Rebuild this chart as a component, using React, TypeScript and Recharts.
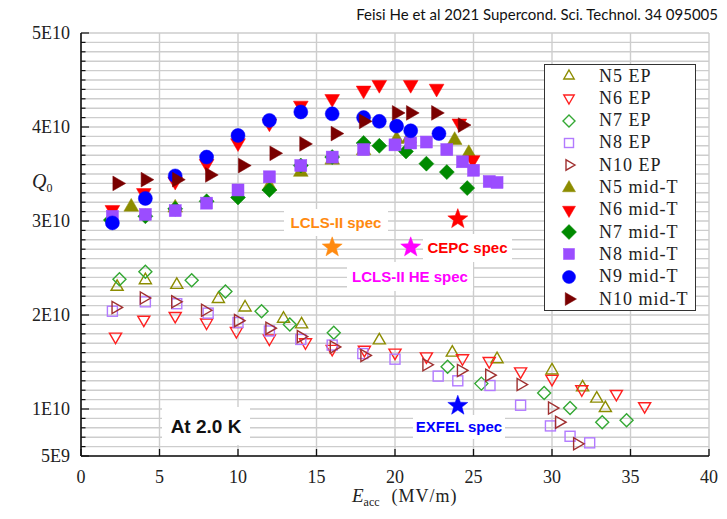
import React from 'react';
import { ScatterChart, Scatter, XAxis, YAxis, CartesianGrid, Legend } from 'recharts';

type Pt = [number, number];
type Kind = 'up' | 'down' | 'diamond' | 'square' | 'circle' | 'right' | 'star';

// E_acc (MV/m), Q0 in units of 1E9

// EP baseline cavities
const n5Ep: Pt[] = [[2.3, 23.0], [4.1, 23.7], [6.1, 23.2], [8.75, 21.7], [10.45, 20.8], [12.9, 19.6], [14.05, 19.0], [19.0, 17.3], [23.65, 16.0], [26.5, 15.3], [30.0, 14.1], [31.95, 12.3], [32.85, 11.1], [33.4, 10.1]];
const n6Ep: Pt[] = [[2.2, 17.7], [4.0, 19.5], [6.0, 19.9], [8.0, 19.2], [9.9, 18.3], [12.0, 17.5], [14.3, 17.1], [16.0, 16.4], [18.05, 16.3], [20.0, 16.0], [22.0, 15.6], [24.3, 15.4], [26.0, 15.1], [28.0, 14.0], [30.0, 13.2], [31.9, 12.1], [34.1, 11.6], [35.9, 10.3]];
const n7Ep: Pt[] = [[2.45, 23.8], [4.1, 24.6], [7.05, 23.7], [9.2, 22.5], [11.5, 20.4], [13.3, 19.0], [16.1, 18.1], [23.35, 14.5], [25.5, 12.7], [29.5, 11.7], [31.15, 10.1], [33.2, 8.6], [34.75, 8.8]];
const n8Ep: Pt[] = [[2.0, 20.4], [4.1, 21.4], [6.1, 21.2], [8.1, 20.2], [10.0, 19.2], [12.0, 18.3], [14.0, 17.4], [16.0, 16.8], [17.95, 15.9], [20.0, 15.3], [22.75, 13.5], [24.0, 13.0], [26.05, 12.5], [28.0, 10.4], [29.9, 8.2], [31.15, 7.1], [32.4, 6.4]];
const n10Ep: Pt[] = [[2.2, 20.8], [4.0, 21.8], [6.0, 21.4], [7.9, 20.5], [10.0, 19.4], [12.0, 18.6], [14.0, 17.7], [16.1, 16.6], [18.05, 15.7], [22.0, 14.7], [24.2, 14.1], [26.0, 13.6], [28.0, 12.6], [30.0, 10.1], [30.45, 8.6], [31.6, 6.3]];

// mid-T baked cavities
const n5Mid: Pt[] = [[3.2, 31.5], [6.0, 31.4], [12.0, 33.7], [14.0, 35.2], [16.0, 36.5], [18.0, 37.5], [20.1, 38.7], [20.9, 38.8], [23.8, 38.6], [24.7, 37.2]];
const n6Mid: Pt[] = [[2.0, 31.2], [4.0, 33.0], [6.0, 34.2], [8.0, 36.1], [10.0, 38.3], [12.0, 40.4], [14.0, 42.3], [16.0, 43.0], [18.0, 43.9], [19.0, 44.5], [21.0, 44.5], [22.65, 44.1], [24.1, 40.4], [24.95, 36.5]];
const n7Mid: Pt[] = [[1.9, 30.1], [4.1, 30.5], [6.0, 31.3], [8.0, 32.1], [10.0, 32.5], [12.0, 33.3], [14.0, 35.9], [16.0, 36.8], [18.0, 38.3], [19.0, 38.0], [20.7, 37.4], [22.0, 36.1], [23.3, 35.2], [24.6, 33.5]];
const n8Mid: Pt[] = [[2.0, 30.5], [4.1, 30.7], [6.0, 31.1], [8.0, 31.9], [10.0, 33.3], [12.0, 34.7], [14.0, 35.9], [16.0, 36.8], [18.0, 37.6], [20.0, 38.1], [21.0, 38.3], [22.0, 38.4], [23.3, 37.6], [24.3, 36.3], [25.0, 35.4], [26.0, 34.2], [26.5, 34.1]];
const n9Mid: Pt[] = [[2.0, 29.8], [4.1, 32.4], [6.0, 34.8], [8.0, 36.8], [10.0, 39.1], [12.0, 40.7], [14.0, 41.6], [16.0, 41.4], [18.0, 41.0], [19.0, 40.6], [20.1, 40.1], [21.0, 39.6], [22.8, 39.3]];
const n10Mid: Pt[] = [[2.3, 34.0], [4.1, 34.4], [6.1, 34.4], [8.2, 34.9], [10.3, 35.9], [12.3, 37.2], [14.2, 38.2], [16.2, 39.3], [18.0, 40.6], [20.1, 41.5], [21.0, 41.5], [22.6, 41.5], [24.3, 40.2]];

// project specifications (stars)
const specLcls2: Pt[] = [[16, 27.2]];
const specLcls2He: Pt[] = [[21, 27.2]];
const specCepc: Pt[] = [[24, 30.2]];
const specExfel: Pt[] = [[24, 10.35]];

const xTicks = [0, 5, 10, 15, 20, 25, 30, 35, 40];
const yTicks = Array.from({ length: 46 }, (_, i) => i + 5);
const yLabels: Record<number, string> = { 5: '5E9', 10: '1E10', 20: '2E10', 30: '3E10', 40: '4E10', 50: '5E10' };

const series: { name: string; data: Pt[]; kind: Kind; color: string; filled: boolean }[] = [
  { name: 'N5 EP', data: n5Ep, kind: 'up', color: '#8c8c00', filled: false },
  { name: 'N6 EP', data: n6Ep, kind: 'down', color: '#ff2020', filled: false },
  { name: 'N7 EP', data: n7Ep, kind: 'diamond', color: '#33a833', filled: false },
  { name: 'N8 EP', data: n8Ep, kind: 'square', color: '#b27aff', filled: false },
  { name: 'N10 EP', data: n10Ep, kind: 'right', color: '#a03030', filled: false },
  { name: 'N5 mid-T', data: n5Mid, kind: 'up', color: '#8c8c00', filled: true },
  { name: 'N6 mid-T', data: n6Mid, kind: 'down', color: '#ff0000', filled: true },
  { name: 'N7 mid-T', data: n7Mid, kind: 'diamond', color: '#008a00', filled: true },
  { name: 'N8 mid-T', data: n8Mid, kind: 'square', color: '#9b4dff', filled: true },
  { name: 'N9 mid-T', data: n9Mid, kind: 'circle', color: '#0000ff', filled: true },
  { name: 'N10 mid-T', data: n10Mid, kind: 'right', color: '#7a0000', filled: true },
];

const specs = [
  { name: 'LCLS-II spec', data: specLcls2, color: '#ff8a10' },
  { name: 'LCLS-II HE spec', data: specLcls2He, color: '#ff00ff' },
  { name: 'CEPC spec', data: specCepc, color: '#ff0000' },
  { name: 'EXFEL spec', data: specExfel, color: '#0000ff' },
];

const toData = (pts: Pt[]) => pts.map(([x, y]) => ({ x, y }));

const poly = (cx: number, cy: number, p: number[][]) => p.map(([dx, dy]) => `${cx + dx},${cy + dy}`).join(' ');

function drawMarker(kind: Kind, cx: number, cy: number, color: string, filled: boolean, r: number) {
  const style = { fill: filled ? color : 'none', stroke: color, strokeWidth: filled ? 0.5 : 1.4 };
  const h = 0.866 * r;
  switch (kind) {
    case 'circle':
      return <circle cx={cx} cy={cy} r={r} {...style} />;
    case 'square':
      return <rect x={cx - r} y={cy - r} width={2 * r} height={2 * r} {...style} />;
    case 'diamond':
      return <polygon points={poly(cx, cy, [[0, -r], [r, 0], [0, r], [-r, 0]])} {...style} />;
    case 'up':
      return <polygon points={poly(cx, cy, [[0, -r], [h, r / 2], [-h, r / 2]])} {...style} />;
    case 'down':
      return <polygon points={poly(cx, cy, [[0, r], [h, -r / 2], [-h, -r / 2]])} {...style} />;
    case 'right':
      return <polygon points={poly(cx, cy, [[r, 0], [-r / 2, -h], [-r / 2, h]])} {...style} />;
    default: {
      const p: number[][] = [];
      for (let i = 0; i < 10; i++) {
        const a = -Math.PI / 2 + (i * Math.PI) / 5;
        const rr = i % 2 === 0 ? r : r * 0.42;
        p.push([rr * Math.cos(a), rr * Math.sin(a)]);
      }
      return <polygon points={poly(cx, cy, p)} fill={color} stroke={color} strokeWidth={0.5} />;
    }
  }
}

const plotSize = (kind: Kind, filled: boolean) => {
  if (kind === 'star') return 10.5;
  if (filled) return kind === 'circle' ? 7 : kind === 'square' ? 6 : kind === 'diamond' ? 7.5 : 8.5;
  return kind === 'square' ? 5 : kind === 'diamond' ? 6.5 : 7;
};

const serif = '"Liberation Serif", "DejaVu Serif", serif';
const sans = '"Liberation Sans", Arial, sans-serif';

const BottomTick = (props: any) => {
  const { x, y, payload } = props;
  return (
    <g>
      <line x1={x} y1={y} x2={x} y2={y - 7} stroke="#111" strokeWidth={1.3} />
      <text x={x} y={y + 27} textAnchor="middle" fontFamily={serif} fontSize={18} fill="#222">{payload.value}</text>
    </g>
  );
};

const TopTick = (props: any) => {
  const { x, y } = props;
  return <line x1={x} y1={y} x2={x} y2={y + 7} stroke="#111" strokeWidth={1.3} />;
};

const LeftTick = (props: any) => {
  const { x, y, payload } = props;
  const label = yLabels[payload.value];
  return (
    <g>
      <line x1={x} y1={y} x2={x + (label ? 8 : 4.5)} y2={y} stroke="#111" strokeWidth={1.2} />
      {label && (
        <text x={x - 11} y={y + 6} textAnchor="end" fontFamily={serif} fontSize={18} fill="#222">{label}</text>
      )}
    </g>
  );
};

const RightTick = (props: any) => {
  const { x, y, payload } = props;
  const len = yLabels[payload.value] ? 8 : 4.5;
  return <line x1={x} y1={y} x2={x - len} y2={y} stroke="#111" strokeWidth={1.2} />;
};

const LegendBox = () => (
  <div style={{ width: 152, height: 247, border: '1.5px solid #333', background: '#fff', boxSizing: 'border-box', position: 'relative' }}>
    {series.map((s, i) => (
      <div key={s.name} style={{ position: 'absolute', left: 0, top: i * 22.3, height: 22, display: 'flex', alignItems: 'center' }}>
        <svg width={48} height={22}>
          {drawMarker(s.kind, 24, 11, s.color, s.filled, s.filled ? (s.kind === 'square' ? 5.5 : s.kind === 'circle' ? 6.5 : 7.5) : (s.kind === 'square' ? 4.5 : 6))}
        </svg>
        <span style={{ marginLeft: 6, fontFamily: serif, fontSize: 18, letterSpacing: 1, color: '#222', whiteSpace: 'pre' }}>{s.name}</span>
      </div>
    ))}
  </div>
);

const notes = [
  { text: 'LCLS-II spec', color: '#ff8a10', x: 276, y: 201, w: 104, h: 27, size: 15 },
  { text: 'CEPC spec', color: '#ff0000', x: 415, y: 226, w: 89, h: 28, size: 15 },
  { text: 'LCLS-II HE spec', color: '#ff00ff', x: 339, y: 254, w: 126, h: 29, size: 15 },
  { text: 'EXFEL spec', color: '#0000ff', x: 405, y: 407, w: 92, h: 24, size: 15 },
  { text: 'At 2.0 K', color: '#111', x: 154, y: 399, w: 88, h: 38, size: 19 },
];

export default function App() {
  return (
    <div style={{ position: 'relative', width: 719, height: 511, background: '#fff' }}>
      <ScatterChart width={719} height={511} margin={{ top: 25, right: 18, bottom: 23, left: 13 }}>
        <CartesianGrid stroke="#cdcdcd" strokeWidth={1.4} />
        <XAxis type="number" dataKey="x" domain={[0, 40]} ticks={xTicks} height={40} tickSize={0} tickMargin={0}
          tickLine={false} axisLine={{ stroke: '#111', strokeWidth: 1.6 }} tick={<BottomTick />} interval={0} />
        <XAxis xAxisId="t" orientation="top" type="number" domain={[0, 40]} ticks={xTicks} height={0} tickSize={0}
          tickMargin={0} tickLine={false} axisLine={{ stroke: '#111', strokeWidth: 1.6 }} tick={<TopTick />} interval={0} />
        <YAxis type="number" dataKey="y" domain={[5, 50]} ticks={yTicks} width={60} tickSize={0} tickMargin={0}
          tickLine={false} axisLine={{ stroke: '#111', strokeWidth: 1.6 }} tick={<LeftTick />} interval={0} />
        <YAxis yAxisId="r" orientation="right" type="number" domain={[5, 50]} ticks={yTicks} width={0} tickSize={0}
          tickMargin={0} tickLine={false} axisLine={{ stroke: '#111', strokeWidth: 1.6 }} tick={<RightTick />} interval={0} />
        <Legend layout="vertical" align="center" verticalAlign="middle" content={() => <LegendBox />}
          wrapperStyle={{ left: 536, top: 56, width: 152, height: 247 }} />
        {series.map((s) => (
          <Scatter key={s.name} name={s.name} data={toData(s.data)} isAnimationActive={false}
            shape={(p: any) => drawMarker(s.kind, p.cx, p.cy, s.color, s.filled, plotSize(s.kind, s.filled))} />
        ))}
        {specs.map((s) => (
          <Scatter key={s.name} name={s.name} data={toData(s.data)} isAnimationActive={false} legendType="none"
            shape={(p: any) => drawMarker('star', p.cx, p.cy, s.color, true, 10.5)} />
        ))}
      </ScatterChart>
      <svg width={719} height={511} style={{ position: 'absolute', left: 0, top: 0, pointerEvents: 'none', overflow: 'visible' }}>
        {notes.map((n) => (
          <g key={n.text}>
            <rect x={n.x} y={n.y} width={n.w} height={n.h} fill="#fff" />
            <text x={n.x + n.w / 2} y={n.y + n.h / 2 + n.size * 0.36} textAnchor="middle" fontFamily={sans}
              fontWeight="bold" fontSize={n.size} fill={n.color}>{n.text}</text>
          </g>
        ))}
        <text x={24} y={180} fontFamily={serif} fill="#222">
          <tspan fontStyle="italic" fontSize={20}>Q</tspan>
          <tspan fontSize={12} dy={4}>0</tspan>
        </text>
        <text x={344} y={494} fontFamily={serif} fill="#222">
          <tspan fontStyle="italic" fontSize={19}>E</tspan>
          <tspan fontSize={12} dy={4}>acc</tspan>
          <tspan fontSize={18} dy={-4} dx={12} letterSpacing={1}>(MV/m)</tspan>
        </text>
      </svg>
      <div style={{ position: 'absolute', right: 9, top: -4, fontFamily: "Lato, 'Open Sans', sans-serif", fontSize: 15,
        color: '#111', whiteSpace: 'nowrap', lineHeight: '20px' }}>
        Feisi He et al 2021 Supercond. Sci. Technol. 34 095005
      </div>
    </div>
  );
}
